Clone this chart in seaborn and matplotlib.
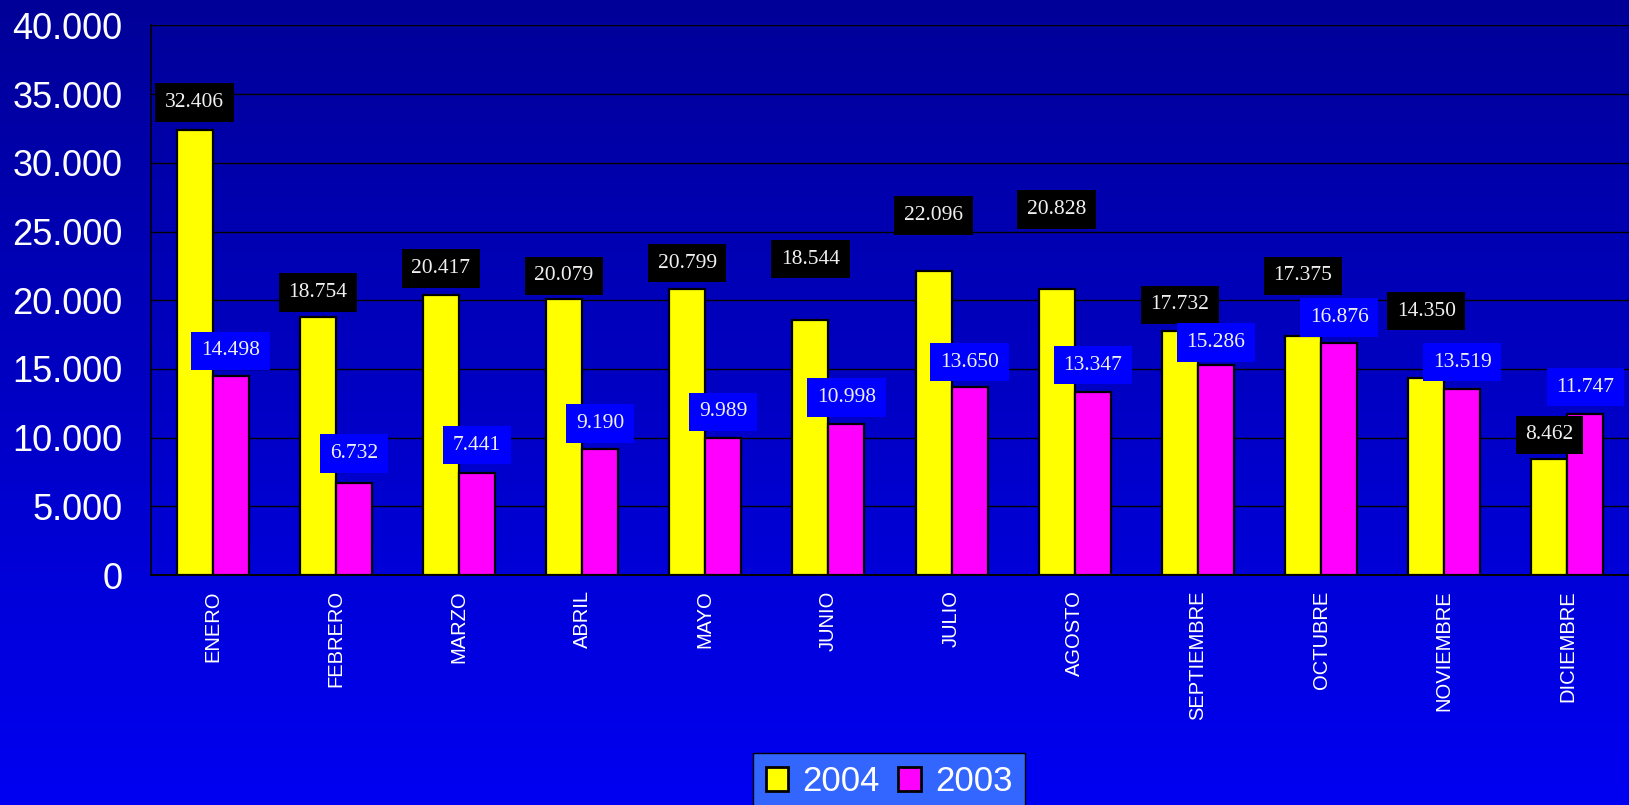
import numpy as np
import pandas as pd
import matplotlib
matplotlib.use("Agg")
import matplotlib.pyplot as plt
from matplotlib.patches import Patch
import seaborn as sns

meses = ["ENERO", "FEBRERO", "MARZO", "ABRIL", "MAYO", "JUNIO", "JULIO",
         "AGOSTO", "SEPTIEMBRE", "OCTUBRE", "NOVIEMBRE", "DICIEMBRE"]
valores_2004 = [32406, 18754, 20417, 20079, 20799, 18544, 22096, 20828, 17732, 17375, 14350, 8462]
valores_2003 = [14498, 6732, 7441, 9190, 9989, 10998, 13650, 13347, 15286, 16876, 13519, 11747]
series = ["2004", "2003"]
colores = ["#FFFF00", "#FF00FF"]
y_ticks = [0, 5000, 10000, 15000, 20000, 25000, 30000, 35000, 40000]

# label offsets above the bar tops (layout, in data units)
off_2004 = [2000, 1800, 1900, 1700, 1900, 4440, 4060, 5780, 1930, 4400, 4850, 1740]
off_2003 = [1830, 2120, 2010, 1850, 1880, 1930, 1850, 1920, 1640, 1870, 1980, 1930]

df = pd.DataFrame({
    "mes": meses * 2,
    "valor": valores_2004 + valores_2003,
    "anio": [series[0]] * len(meses) + [series[1]] * len(meses),
})

sns.set_style("white")
plt.rcParams["font.family"] = ["Liberation Sans", "DejaVu Sans"]

W, H = 1629, 805
fig = plt.figure(figsize=(W / 100, H / 100), dpi=100)

# gradient background
bg = fig.add_axes([0, 0, 1, 1], zorder=-10)
grad = np.linspace(0, 1, 256).reshape(-1, 1)
top = np.array([0, 0, 152]) / 255
bot = np.array([0, 0, 242]) / 255
img = top[None, None, :] * (1 - grad[:, :, None]) + bot[None, None, :] * grad[:, :, None]
bg.imshow(img, aspect="auto", extent=[0, 1, 0, 1])
bg.set_axis_off()

left = 151 / W
bottom = 1 - 575 / H
topy = 1 - 25.5 / H
ax = fig.add_axes([left, bottom, 1.0 - left, topy - bottom])
ax.set_facecolor("none")

sns.barplot(data=df, x="mes", y="valor", hue="anio", hue_order=series,
            palette=colores, saturation=1, width=0.585, edgecolor="black",
            linewidth=1.6, legend=False, ax=ax, zorder=3)

ax.set_ylim(0, 40000)
ax.set_xlim(-0.5, len(meses) - 0.5)
ax.set_yticks(y_ticks)
ax.set_yticklabels([f"{v:,.0f}".replace(",", ".") for v in y_ticks],
                   color="white", fontsize=26)
ax.tick_params(axis="y", direction="out", length=6.5, width=1, color="black", pad=14)
ax.yaxis.grid(True, color="black", linewidth=1.0)
ax.set_axisbelow(True)

ax.set_xticks(range(len(meses)))
ax.set_xticklabels(meses, rotation=90, color="white", fontsize=14.5, va="top", ha="center")
ax.tick_params(axis="x", which="major", length=0, pad=11)
ax.set_xticks(np.arange(-0.5, len(meses), 1.0), minor=True)
ax.tick_params(axis="x", which="minor", direction="out", length=4, width=1, color="black")
ax.set_xlabel("")
ax.set_ylabel("")

for s in ["top", "right"]:
    ax.spines[s].set_visible(False)
ax.spines["left"].set_color("black")
ax.spines["left"].set_linewidth(1.2)
ax.spines["bottom"].set_color("black")
ax.spines["bottom"].set_linewidth(1.4)

box_colors = ["black", "#0000FF"]
offsets = [off_2004, off_2003]
for ci, cont in enumerate(ax.containers):
    for bi, bar in enumerate(cont):
        xc = bar.get_x() + bar.get_width() / 2
        v = bar.get_height()
        ax.text(xc, v + offsets[ci][bi], f"{v:,.0f}".replace(",", "."),
                ha="center", va="center", fontsize=15.5, color="#F0F0F0",
                family=["Liberation Serif", "DejaVu Serif"], zorder=6,
                bbox=dict(boxstyle="square,pad=0.45", fc=box_colors[ci], ec="none"))

handles = [Patch(facecolor=c, edgecolor="black", linewidth=2) for c in colores]
leg = fig.legend(handles, series, loc="upper center",
                 bbox_to_anchor=(889 / W, 1 - 753 / H), ncol=2, fontsize=25,
                 frameon=True, fancybox=False, handlelength=0.65, handleheight=0.65,
                 handletextpad=0.4, columnspacing=0.55, borderpad=0.35, borderaxespad=0)
leg.get_frame().set_facecolor("#3366FF")
leg.get_frame().set_edgecolor("black")
leg.get_frame().set_linewidth(1)
leg.get_frame().set_alpha(1)
for t in leg.get_texts():
    t.set_color("white")

fig.savefig("out.png", dpi=100)
